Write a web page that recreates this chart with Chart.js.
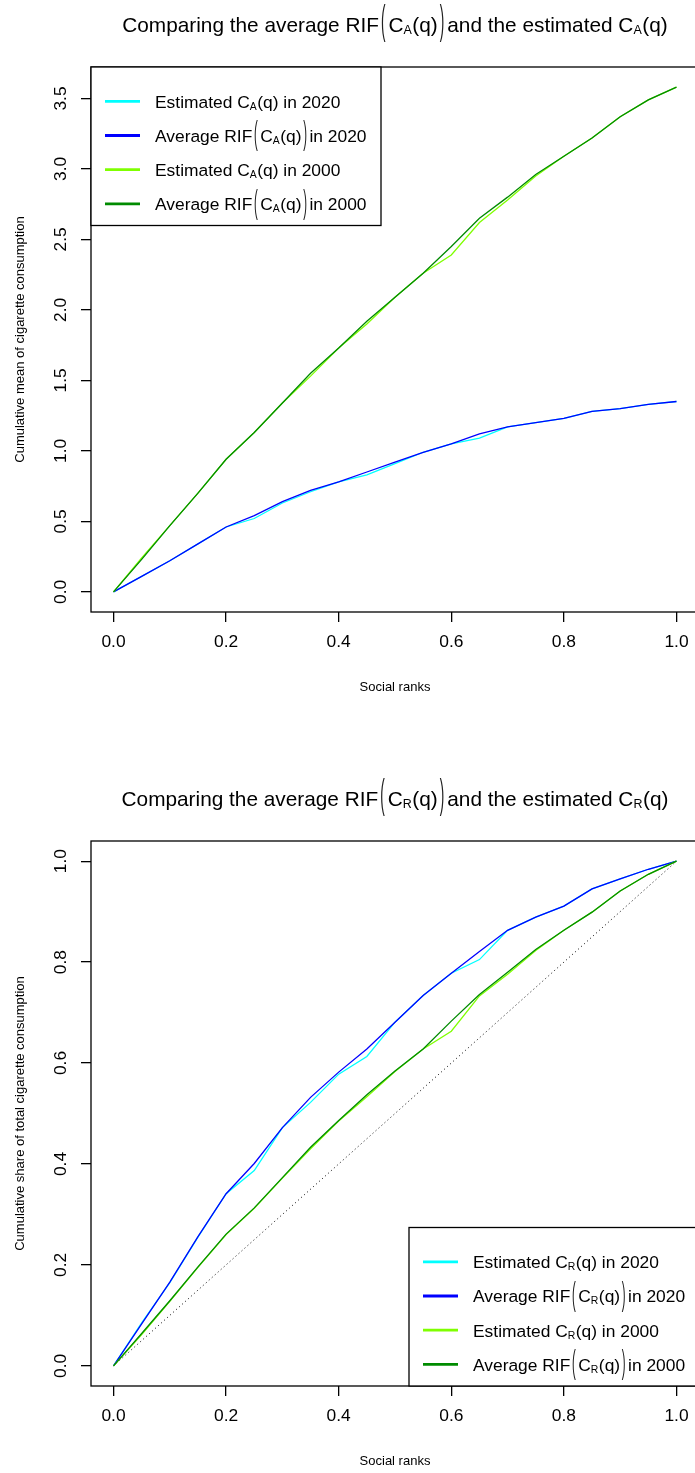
<!DOCTYPE html>
<html>
<head>
<meta charset="utf-8">
<script src="https://cdn.jsdelivr.net/npm/chart.js@4.4.1/dist/chart.umd.min.js"></script>
<style>
  html, body { margin: 0; padding: 0; background: #fff; overflow: hidden; width: 695px; height: 1473px; }
  .plot { width: 710px; height: 774px; }
  canvas { display: block; }
</style>
</head>
<body>
<div class="plot"><canvas id="mean-chart" width="710" height="774"></canvas></div>
<div class="plot"><canvas id="share-chart" width="710" height="774"></canvas></div>
<script>
const FONT = "'Liberation Sans', Arial, Helvetica, sans-serif";

// Data
const ranks = [0, 0.05, 0.1, 0.15, 0.2, 0.25, 0.3, 0.35, 0.4, 0.45, 0.5, 0.55, 0.6, 0.65, 0.7, 0.75, 0.8, 0.85, 0.9, 0.95, 1];

const meanEst2020 = [0, 0.11, 0.22, 0.34, 0.46, 0.52, 0.63, 0.71, 0.78, 0.83, 0.91, 0.99, 1.05, 1.09, 1.17, 1.2, 1.23, 1.28, 1.3, 1.33, 1.35];
const meanRif2020 = [0, 0.11, 0.22, 0.34, 0.46, 0.54, 0.64, 0.72, 0.78, 0.85, 0.92, 0.99, 1.05, 1.12, 1.17, 1.2, 1.23, 1.28, 1.3, 1.33, 1.35];
const meanEst2000 = [0, 0.24, 0.47, 0.7, 0.94, 1.13, 1.34, 1.53, 1.73, 1.9, 2.09, 2.26, 2.39, 2.62, 2.78, 2.95, 3.09, 3.22, 3.37, 3.49, 3.58];
const meanRif2000 = [0, 0.23, 0.47, 0.7, 0.94, 1.13, 1.34, 1.55, 1.73, 1.92, 2.09, 2.26, 2.45, 2.65, 2.8, 2.96, 3.09, 3.22, 3.37, 3.49, 3.58];

const shareEst2020 = [0, 0.085, 0.165, 0.255, 0.341, 0.387, 0.472, 0.522, 0.578, 0.613, 0.681, 0.734, 0.778, 0.805, 0.863, 0.889, 0.911, 0.945, 0.965, 0.984, 1];
const shareRif2020 = [0, 0.083, 0.166, 0.256, 0.341, 0.401, 0.472, 0.532, 0.582, 0.628, 0.681, 0.734, 0.778, 0.821, 0.863, 0.889, 0.911, 0.945, 0.965, 0.984, 1];
const shareEst2000 = [0, 0.062, 0.128, 0.195, 0.26, 0.312, 0.372, 0.43, 0.485, 0.533, 0.583, 0.628, 0.663, 0.733, 0.776, 0.823, 0.863, 0.899, 0.941, 0.974, 1];
const shareRif2000 = [0, 0.064, 0.129, 0.196, 0.261, 0.313, 0.373, 0.433, 0.486, 0.537, 0.584, 0.628, 0.683, 0.736, 0.78, 0.825, 0.863, 0.899, 0.941, 0.974, 1];

// equality line for the share plot
const equalityX = [0, 1];
const equalityY = [0, 1];

// Tick labels
const rankTicks = [0, 0.2, 0.4, 0.6, 0.8, 1];
const meanTicks = [0, 0.5, 1, 1.5, 2, 2.5, 3, 3.5];
const shareTicks = [0, 0.2, 0.4, 0.6, 0.8, 1];

const seriesColors = ["#00FFFF", "#0000FF", "#7FFF00", "#008B00"];
const seriesYears = ["2020", "2020", "2000", "2000"];

// Plotmath-like text: n = normal, s = subscript, b = big bracket
function estimatedLabel(sub, year) {
  return [["n", "Estimated C"], ["s", sub], ["n", "(q) in " + year]];
}
function rifLabel(sub, year) {
  return [["n", "Average RIF"], ["b", "("], ["n", "C"], ["s", sub], ["n", "(q)"], ["b", ")"], ["n", "in " + year]];
}
function titleLabel(sub) {
  return [["n", "Comparing the average RIF"], ["b", "("], ["n", "C"], ["s", sub], ["n", "(q)"], ["b", ")"],
    ["n", "and the estimated C"], ["s", sub], ["n", "(q)"]];
}

function tokenWidth(ctx, kind, txt, size) {
  if (kind === "s") {
    ctx.font = size * 0.6 + "px " + FONT;
    return ctx.measureText(txt).width + size * 0.03;
  }
  ctx.font = size + "px " + FONT;
  if (kind === "b") return ctx.measureText(txt).width * 0.65 + size * 0.24;
  return ctx.measureText(txt).width;
}

function mathWidth(ctx, tokens, size) {
  return tokens.reduce((w, t) => w + tokenWidth(ctx, t[0], t[1], size), 0);
}

function drawMath(ctx, tokens, x, baseline, size) {
  ctx.save();
  ctx.fillStyle = "#000";
  ctx.textAlign = "left";
  ctx.textBaseline = "alphabetic";
  tokens.forEach(([kind, txt]) => {
    const w = tokenWidth(ctx, kind, txt, size);
    if (kind === "s") {
      ctx.fillText(txt, x, baseline + size * 0.12);
    } else if (kind === "b") {
      ctx.save();
      ctx.translate(x + size * 0.1, baseline + size * 0.135);
      ctx.scale(0.65, 1.95);
      ctx.fillStyle = "#222";
      ctx.fillText(txt, 0, 0);
      ctx.restore();
    } else {
      ctx.fillText(txt, x, baseline);
    }
    x += w;
  });
  ctx.restore();
}

// R-like axis range: data range stretched by 4%
function paddedRange(arrays) {
  const all = [].concat(...arrays);
  const lo = Math.min(...all);
  const hi = Math.max(...all);
  const ext = (hi - lo) * 0.04;
  return [lo - ext, hi + ext];
}

function points(xs, ys) {
  return xs.map((x, i) => ({ x: x, y: ys[i] }));
}

const boxPlugin = {
  id: "rBox",
  afterDatasetsDraw(chart) {
    const a = chart.chartArea;
    const ctx = chart.ctx;
    ctx.save();
    ctx.strokeStyle = "#000";
    ctx.lineWidth = 1.3;
    ctx.strokeRect(a.left, a.top, a.right - a.left, a.bottom - a.top);
    ctx.restore();
  },
};

function titlePlugin(tokens) {
  return {
    id: "rTitle",
    afterDraw(chart) {
      const ctx = chart.ctx;
      const size = 20.8;
      const a = chart.chartArea;
      const w = mathWidth(ctx, tokens, size);
      drawMath(ctx, tokens, (a.left + a.right) / 2 - w / 2, 31.5, size);
    },
  };
}

function legendPlugin(labels, corner) {
  return {
    id: "rLegend",
    afterDraw(chart) {
      const ctx = chart.ctx;
      const a = chart.chartArea;
      const bw = 290;
      const bh = 158.5;
      const left = corner === "topleft" ? a.left : a.right - bw;
      const top = corner === "topleft" ? a.top : a.bottom - bh;
      ctx.save();
      ctx.fillStyle = "#fff";
      ctx.fillRect(left, top, bw, bh);
      ctx.strokeStyle = "#000";
      ctx.lineWidth = 1.3;
      ctx.strokeRect(left, top, bw, bh);
      labels.forEach((tokens, i) => {
        const mid = top + 34.3 + i * 34.2;
        ctx.strokeStyle = seriesColors[i];
        ctx.lineWidth = 2.8;
        ctx.beginPath();
        ctx.moveTo(left + 14, mid);
        ctx.lineTo(left + 49, mid);
        ctx.stroke();
        drawMath(ctx, tokens, left + 64, mid + 6.3, 17.4);
      });
      ctx.restore();
    },
  };
}

function makeChart(canvasId, series, yTicks, yTitle, sub, corner, withEquality) {
  const ctx = document.getElementById(canvasId).getContext("2d");
  const xRange = paddedRange([ranks]);
  const yRange = paddedRange(series);

  const datasets = series.map((vals, i) => ({
    label: ["Estimated", "Average RIF", "Estimated", "Average RIF"][i] + " " + seriesYears[i],
    data: points(ranks, vals),
    borderColor: seriesColors[i],
    borderWidth: 1.3,
    pointRadius: 0,
    tension: 0,
    order: series.length - i,
  }));
  if (withEquality) {
    datasets.push({
      label: "Equality",
      data: points(equalityX, equalityY),
      borderColor: "#000",
      borderWidth: 1,
      borderDash: [1, 3],
      pointRadius: 0,
      order: 10,
    });
  }

  const labels = [
    estimatedLabel(sub, seriesYears[0]),
    rifLabel(sub, seriesYears[1]),
    estimatedLabel(sub, seriesYears[2]),
    rifLabel(sub, seriesYears[3]),
  ];

  return new Chart(ctx, {
    type: "line",
    data: { datasets: datasets },
    options: {
      responsive: false,
      animation: false,
      devicePixelRatio: 1,
      layout: { padding: { top: 67, right: 11, left: 0, bottom: 0 } },
      plugins: {
        legend: { display: false },
        tooltip: { enabled: false },
      },
      scales: {
        x: {
          type: "linear",
          min: xRange[0],
          max: xRange[1],
          afterBuildTicks: (scale) => {
            scale.ticks = rankTicks.map((v) => ({ value: v }));
          },
          afterFit: (scale) => {
            scale.height = 162;
          },
          grid: { drawOnChartArea: false, drawTicks: true, tickLength: 10, color: "#000", lineWidth: 1.3 },
          border: { display: false },
          ticks: {
            color: "#000",
            padding: 10,
            maxRotation: 0,
            font: { family: FONT, size: 17.4 },
            callback: (v) => Number(v).toFixed(1),
          },
          title: {
            display: true,
            text: "Social ranks",
            color: "#000",
            font: { family: FONT, size: 13 },
            padding: { top: 0, bottom: 78.5 },
          },
        },
        y: {
          type: "linear",
          min: yRange[0],
          max: yRange[1],
          afterBuildTicks: (scale) => {
            scale.ticks = yTicks.map((v) => ({ value: v }));
          },
          afterFit: (scale) => {
            scale.width = 91;
          },
          grid: { drawOnChartArea: false, drawTicks: true, tickLength: 10, color: "#000", lineWidth: 1.3 },
          border: { display: false },
          ticks: {
            color: "#000",
            padding: 8,
            minRotation: 90,
            maxRotation: 90,
            crossAlign: "center",
            font: { family: FONT, size: 17.4 },
            callback: (v) => Number(v).toFixed(1),
          },
          title: {
            display: true,
            text: yTitle,
            color: "#000",
            font: { family: FONT, size: 13 },
            padding: { top: 13, bottom: 0 },
          },
        },
      },
    },
    plugins: [boxPlugin, titlePlugin(titleLabel(sub)), legendPlugin(labels, corner)],
  });
}

makeChart(
  "mean-chart",
  [meanEst2020, meanRif2020, meanEst2000, meanRif2000],
  meanTicks,
  "Cumulative mean of cigarette consumption",
  "A",
  "topleft",
  false
);

makeChart(
  "share-chart",
  [shareEst2020, shareRif2020, shareEst2000, shareRif2000],
  shareTicks,
  "Cumulative share of total cigarette consumption",
  "R",
  "bottomright",
  true
);
</script>
</body>
</html>
